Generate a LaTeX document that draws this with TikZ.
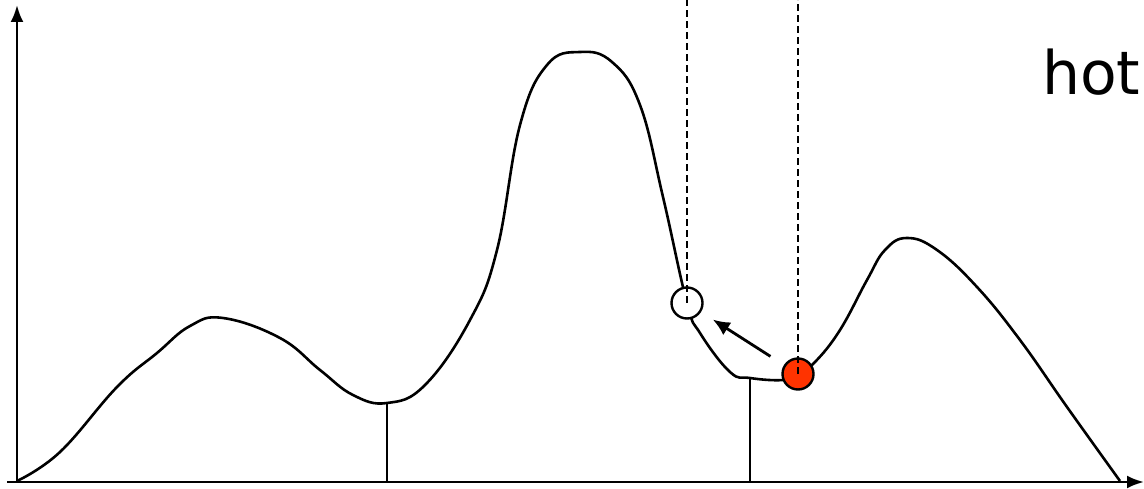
\documentclass[tikz,border=0pt]{standalone}
\usepackage{fontspec}
\usepackage{xcolor}
\usepackage{tikz}
\usetikzlibrary{arrows.meta,positioning,calc}
\newfontfamily\handfont{DejaVu Sans}
\definecolor{ember}{HTML}{FF3300}

\begin{document}
\begin{tikzpicture}[
  x=1pt, y=-1pt,
  axis/.style={line width=2.6pt, -{Latex[length=17pt,width=13pt]}},
  landscape/.style={line width=2.6pt, line join=round},
  drop/.style={line width=2.2pt},
  guide/.style={line width=1.8pt, dash pattern=on 7pt off 4pt},
  ball/.style={circle, draw, line width=2.4pt, minimum size=31pt, inner sep=0pt},
  move/.style={line width=2.8pt, -{Latex[length=17pt,width=15pt]}}
]
  \useasboundingbox (0,0) rectangle (1144,489);
  \coordinate (origin) at (17,482);
  \coordinate (ytip) at (17,5);
  \coordinate (xtip) at (1144,482);
  \draw[axis] (origin) -- (ytip);
  \draw[axis] ($(origin)+(-10,0)$) -- (xtip);

  \draw[landscape] plot[smooth, tension=0.7] coordinates {
    (17,481) (60,452) (117,387) (157,353) (190,326) (223,318) (280,338)
    (320,370) (353,395) (387,403) (425,385) (470,320) (497,250)
    (520,125) (547,65) (580,52) (612,62) (640,105) (663,197)
    (687,303) (700,333) (730,372) (750,378) (783,380) (798,374)
    (815,362) (840,330) (867,280) (885,250) (907,238) (937,250) (977,287)
    (1020,340) (1067,407) (1120,481)};

  \coordinate (leftdip) at (387,403);
  \coordinate (rightdip) at (750,378);
  \draw[drop] (leftdip) -- (leftdip |- origin);
  \draw[drop] (rightdip) -- (rightdip |- origin);

  \node[ball, fill=white] (next) at (687,303) {};
  \node[ball, fill=ember] (now) at (798,374) {};
  \coordinate (top) at (0,0);
  \draw[guide] (next.center) -- (next |- top);
  \draw[guide] (now.center) -- (now |- top);
  \draw[move, shorten <=16pt, shorten >=14pt] (now) -- (next);

  \node[anchor=base west, inner sep=0pt, font=\handfont\fontsize{60}{60}\selectfont] (label) at (1042,95) {hot};
\end{tikzpicture}
\end{document}
